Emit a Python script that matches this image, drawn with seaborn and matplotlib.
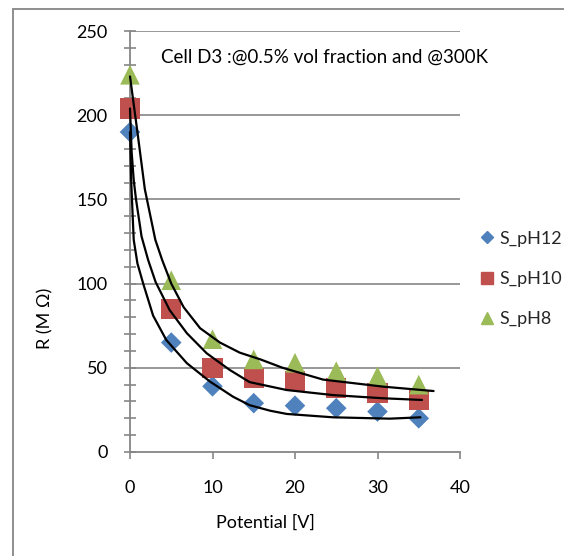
import matplotlib
matplotlib.use("Agg")
import matplotlib.pyplot as plt
from matplotlib.patches import Rectangle
from matplotlib.lines import Line2D
from matplotlib.ticker import MultipleLocator
import seaborn as sns
import pandas as pd

# ---- data ----
potential = [0, 5, 10, 15, 20, 25, 30, 35]
r_ph12 = [190, 65, 39, 29, 27.5, 26, 24, 20]
r_ph10 = [204, 85, 50, 44, 42, 38, 35, 31]
r_ph8 = [224, 102, 67, 55, 53, 48, 45, 40]
series_names = ["S_pH12", "S_pH10", "S_pH8"]

# trend curves
curve12_x = [0, 0.15, 0.45, 0.9, 1.6, 2.8, 4.4, 6.9, 9.7, 12.5, 14.5, 17, 19, 24.6, 31.5, 35.2]
curve12_y = [190, 160, 126, 112, 100, 81, 66.5, 52.7, 41.8, 32.8, 27.8, 24.5, 22.6, 20.6, 19.8, 20.6]
curve10_x = [0, 0.2, 0.45, 0.73, 1.4, 2.2, 3.1, 4.8, 6.9, 9.3, 12.1, 14.5, 19, 24.6, 30.7, 35.4]
curve10_y = [204, 178, 161.5, 150, 128, 114, 101, 84.3, 70.5, 58.6, 48.7, 41.5, 36.8, 33.8, 31.9, 30.9]
curve8_x = [0, 0.9, 1.8, 3.07, 3.9, 5.0, 6.5, 8.5, 10.9, 13.3, 15.8, 18.5, 23.4, 30.7, 36.8]
curve8_y = [223, 190, 156, 126, 114, 100, 86, 73.5, 65, 59, 55, 50, 43, 38.8, 36.2]

title_text = "Cell D3 :@0.5% vol fraction and @300K"
x_label = "Potential [V]"
y_label = "R (M Ω)"
x_ticks = [0, 10, 20, 30, 40]
y_ticks = [0, 50, 100, 150, 200, 250]

# ---- style ----
sns.set_theme(style="white")
plt.rcParams["font.family"] = ["Lato", "DejaVu Sans"]
GRAY = "#868686"
colors = ["#4F81BD", "#C0504D", "#9BBB59"]
markers = ["D", "s", "^"]
msizes = [110, 210, 200]

W, H = 564, 556
fig = plt.figure(figsize=(W / 100, H / 100), dpi=100)
fig.patch.set_facecolor("white")
ax = fig.add_axes([130 / W, 1 - 452 / H, 330 / W, 421 / H])

# outer frame
fig.patches.append(Rectangle((13 / W, -0.2), 1.2, 1 - 9 / H + 0.2,
                             transform=fig.transFigure, fill=False,
                             edgecolor=GRAY, lw=1.3, zorder=0))

ax.set_xlim(0, 40)
ax.set_ylim(0, 250)
for yv in y_ticks[1:]:
    ax.axhline(yv, color=GRAY, lw=1.2, zorder=1)

df = pd.DataFrame({"x": potential * 3,
                   "y": r_ph12 + r_ph10 + r_ph8,
                   "series": sum([[n] * len(potential) for n in series_names], [])})

for name, c, m, s in zip(series_names, colors, markers, msizes):
    sub = df[df["series"] == name]
    sns.scatterplot(data=sub, x="x", y="y", ax=ax, color=c, marker=m, s=s,
                    edgecolor="none", linewidth=0, zorder=3, legend=False, clip_on=False)

for cx, cy in [(curve12_x, curve12_y), (curve10_x, curve10_y), (curve8_x, curve8_y)]:
    ax.plot(cx, cy, color="black", lw=1.6, zorder=4, solid_joinstyle="round",
            solid_capstyle="round", clip_on=False)

# axes styling
for sp in ["top", "right"]:
    ax.spines[sp].set_visible(False)
for sp in ["left", "bottom"]:
    ax.spines[sp].set_color(GRAY)
    ax.spines[sp].set_linewidth(1.3)
ax.set_xticks(x_ticks)
ax.set_yticks(y_ticks)
ax.yaxis.set_minor_locator(MultipleLocator(10))
ax.tick_params(axis="y", which="both", direction="inout", length=8, width=1.2,
               color=GRAY, labelsize=13, labelcolor="black", pad=12, left=True)
ax.tick_params(axis="x", which="major", direction="out", length=5, width=1.2,
               color=GRAY, labelsize=13, labelcolor="black", pad=15, bottom=True)
ax.set_xlabel(x_label, fontsize=13, color="black")
ax.set_ylabel(y_label, fontsize=13, color="black")
ax.xaxis.set_label_coords((265 - 130) / 330, -(523 - 452) / 421 + 0.02)
ax.yaxis.set_label_coords(-(130 - 53) / 330, (452 - 318) / 421)

ax.text(161 / W, 1 - 57 / H, title_text, transform=fig.transFigure,
        fontsize=13.5, ha="left", va="center", color="black",
        bbox=dict(facecolor="white", edgecolor="none", pad=1))

handles = [Line2D([0], [0], marker=m, color=c, linestyle="none", markersize=ms)
           for m, c, ms in zip(markers, colors, [6.5, 8.5, 9])]
fig.legend(handles, series_names, loc="center left",
           bbox_to_anchor=(471 / W, 1 - 279 / H), frameon=False, fontsize=13,
           handlelength=0.8, handletextpad=0.3, labelspacing=1.35, borderpad=0)

fig.savefig("out.png", dpi=100)
